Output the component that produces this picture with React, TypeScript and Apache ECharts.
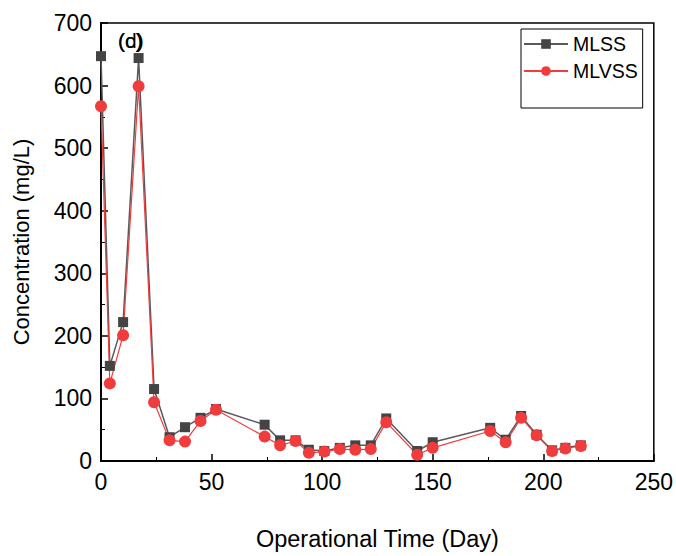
import React, { useEffect, useRef } from "react";
import * as echarts from "echarts";

const days = [0, 4, 10, 17, 24, 31, 38, 45, 52, 74, 81, 88, 94, 101, 108, 115, 122, 129, 143, 150, 176, 183, 190, 197, 204, 210, 217];
const mlss = [647, 152, 222, 644, 115, 38, 54, 69, 83, 58, 33, 33, 18, 16, 21, 25, 25, 68, 16, 30, 53, 34, 72, 42, 17, 21, 25];
const mlvss = [567, 124, 201, 599, 94, 33, 31, 64, 82, 39, 25, 32, 13, 15, 19, 18, 19, 62, 10, 21, 48, 30, 69, 41, 16, 20, 24];
const seriesNames = ["MLSS", "MLVSS"];
const xTitle = "Operational Time (Day)";
const yTitle = "Concentration (mg/L)";
const panelLabels = ["(c)", "(d)"];

const FONT = "'Liberation Sans', Arial, sans-serif";

export default function App() {
  const ref = useRef<HTMLDivElement>(null);
  useEffect(() => {
    document.body.style.margin = "0";
    const chart = echarts.init(ref.current!, null, { renderer: "svg" });
    chart.setOption({
      animation: false,
      backgroundColor: "#fff",
      textStyle: { fontFamily: FONT },
      grid: {
        left: 101,
        right: 22,
        top: 23,
        bottom: 86,
        show: true,
        borderColor: "#000",
        borderWidth: 1.5,
        backgroundColor: "transparent",
      },
      legend: {
        left: 521,
        top: 29,
        orient: "vertical",
        borderColor: "#000",
        borderWidth: 1,
        padding: [5, 5, 27, 2],
        itemWidth: 44,
        itemHeight: 12,
        itemGap: 7,
        textStyle: { fontSize: 19.5, color: "#000", fontFamily: FONT },
        data: seriesNames,
      },
      xAxis: {
        type: "value",
        min: 0,
        max: 250,
        interval: 50,
        name: xTitle,
        nameLocation: "middle",
        nameGap: 66,
        nameTextStyle: { fontSize: 23.5, color: "#000", fontFamily: FONT },
        axisLine: { lineStyle: { color: "#000", width: 2 } },
        axisTick: { inside: true, length: 7, lineStyle: { color: "#000", width: 1.5 } },
        minorTick: { show: true, splitNumber: 2, length: 4, lineStyle: { color: "#000", width: 1 } },
        axisLabel: { fontSize: 23, color: "#000", margin: 9, fontFamily: FONT },
        splitLine: { show: false },
      },
      yAxis: {
        type: "value",
        min: 0,
        max: 700,
        interval: 100,
        name: yTitle,
        nameLocation: "middle",
        nameGap: 69,
        nameTextStyle: { fontSize: 22, color: "#000", fontFamily: FONT },
        axisLine: { show: true, lineStyle: { color: "#000", width: 2 } },
        axisTick: { show: true, inside: true, length: 7, lineStyle: { color: "#000", width: 1.5 } },
        minorTick: { show: true, splitNumber: 2, length: 4, lineStyle: { color: "#000", width: 1 } },
        axisLabel: { fontSize: 23, color: "#000", margin: 9, fontFamily: FONT },
        splitLine: { show: false },
      },
      graphic: panelLabels.map((t) => ({
        type: "text",
        left: 118,
        top: 30,
        style: { text: t, fontSize: 21, fontWeight: "normal", fill: "#000", fontFamily: FONT },
      })),
      series: [
        {
          name: seriesNames[0],
          type: "line",
          data: days.map((d, i) => [d, mlss[i]]),
          symbol: "rect",
          symbolSize: 10,
          showSymbol: true,
          lineStyle: { color: "#5a5a5a", width: 1.5 },
          itemStyle: { color: "#444" },
        },
        {
          name: seriesNames[1],
          type: "line",
          data: days.map((d, i) => [d, mlvss[i]]),
          symbol: "circle",
          symbolSize: 12,
          showSymbol: true,
          lineStyle: { color: "#f03c3c", width: 1.2 },
          itemStyle: { color: "#f03c3c" },
        },
      ],
    });
    return () => chart.dispose();
  }, []);
  return <div ref={ref} style={{ width: 676, height: 556 }} />;
}
